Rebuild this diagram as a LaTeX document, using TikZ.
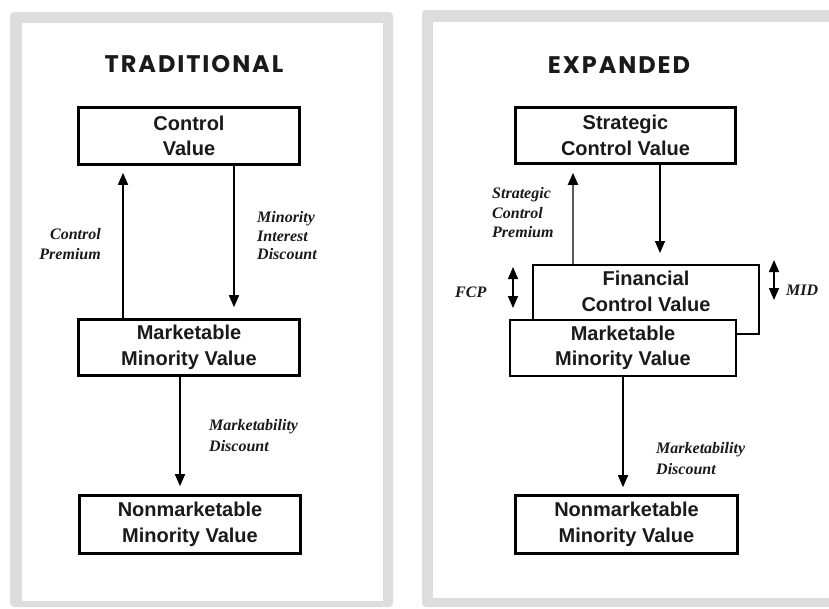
\documentclass[tikz,border=0pt]{standalone}
\usepackage{fontspec}
\setmainfont{Liberation Sans}
\newfontfamily\notefont{Liberation Serif}
\newfontfamily\headfont{Poppins}[LetterSpace=8]
\usetikzlibrary{positioning,arrows.meta}

\definecolor{framegray}{HTML}{DDDDDD}
\definecolor{ink}{HTML}{1A1A1A}

\tikzset{
  valbox/.style={draw, line width=2.6pt, text=ink, align=center, inner sep=0pt,
    minimum width=221pt, minimum height=57pt,
    font=\fontsize{20}{25.5}\selectfont\bfseries},
  note/.style={inner sep=0pt, text=ink,
    font=\notefont\fontsize{16}{20}\selectfont\bfseries\itshape},
  heading/.style={inner sep=0pt, text=ink, font=\headfont\fontsize{24}{28}\selectfont\bfseries},
  flow/.style={-{Triangle[width=10pt,length=12pt,color=black]}, line width=1.5pt},
  twoway/.style={{Triangle[width=10pt,length=12pt]}-{Triangle[width=10pt,length=12pt]}, line width=1.5pt},
}

\begin{document}
\begin{tikzpicture}[x=1pt, y=-1pt]
  \clip (0,0) rectangle (829,608);
  \fill[white] (0,0) rectangle (829,608);
  % the two panels
  \fill[framegray, rounded corners=4pt] (10,12) rectangle (393,607);
  \fill[white] (22,23) rectangle (383,601);
  \fill[framegray, rounded corners=4pt] (422,10) rectangle (860,607);
  \fill[white] (433,22) rectangle (860,598);

  % traditional
  \node[heading] (tradhead) at (194,64) {TRADITIONAL};
  \node[valbox] (cv) at (189,136) {Control\\Value};
  \node[valbox, minimum height=56pt] (mmv) at (189,347.5) {Marketable\\Minority Value};
  \node[valbox, minimum height=58pt] (nmv) at (190,524.5) {Nonmarketable\\Minority Value};
  \draw[flow, shorten >=7pt] ([xshift=-66pt]mmv.north) -- ([xshift=-66pt]cv.south);
  \draw[flow, shorten >=11pt] ([xshift=45pt]cv.south) -- ([xshift=45pt]mmv.north);
  \draw[flow, shorten >=8pt] ([xshift=-9pt]mmv.south) -- ([xshift=-10pt]nmv.north);
  \node[note, align=right, anchor=east] (cpnote) at (101,244.5) {Control\\Premium};
  \node[note, align=left, anchor=west, font=\notefont\fontsize{16}{18.5}\selectfont\bfseries\itshape] (midnote) at (257,236) {Minority\\Interest\\Discount};
  \node[note, align=left, anchor=west, font=\notefont\fontsize{16}{21}\selectfont\bfseries\itshape] (mdnote) at (209,435.5) {Marketability\\Discount};

  % expanded
  \node[heading] (exphead) at (619,65) {EXPANDED};
  \node[valbox, minimum width=220pt, minimum height=56pt] (scv) at (625.5,135.5) {Strategic\\Control Value};
  \node[valbox, line width=2pt, minimum width=226pt, minimum height=69pt] (fcv) at (646,299.5) {};
  \node[valbox, draw=none, minimum width=0pt, minimum height=0pt] (fcvtext) at (646,291.5) {Financial\\Control Value};
  \node[valbox, line width=2pt, fill=white, minimum width=226pt, minimum height=56pt] (mmvx) at (623,348) {Marketable\\Minority Value};
  \node[valbox, minimum width=222pt, minimum height=58pt] (nmvx) at (626.5,524.5) {Nonmarketable\\Minority Value};
  \draw[flow, draw=black!65, line width=2pt, shorten >=8pt] ([xshift=-73pt]fcv.north) -- ([xshift=-52.5pt]scv.south);
  \draw[flow, shorten >=11pt] ([xshift=34.5pt]scv.south) -- ([xshift=14pt]fcv.north);
  \draw[flow, shorten >=7pt] (mmvx.south) -- ([xshift=-3.5pt]nmvx.north);
  \coordinate (fcptop) at (513,267);
  \coordinate (fcpbot) at (513,308);
  \coordinate (midtop) at (774,260);
  \coordinate (midbot) at (774,300);
  \draw[twoway] (fcptop) -- (fcpbot);
  \draw[twoway] (midtop) -- (midbot);
  \node[note, align=left, anchor=west, font=\notefont\fontsize{16}{19.5}\selectfont\bfseries\itshape] (scpnote) at (492,213) {Strategic\\Control\\Premium};
  \node[note, anchor=west] (fcpnote) at (455,292) {FCP};
  \node[note, anchor=west] (midxnote) at (786,290) {MID};
  \node[note, align=left, anchor=west, font=\notefont\fontsize{16}{21}\selectfont\bfseries\itshape] (mdxnote) at (656,458.5) {Marketability\\Discount};
\end{tikzpicture}
\end{document}
